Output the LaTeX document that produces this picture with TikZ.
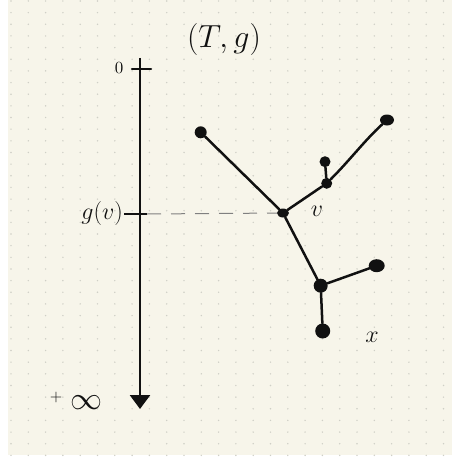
\RequirePackage{fix-cm}
\documentclass[tikz,border=0pt]{standalone}
\usepackage{graphicx}
\usetikzlibrary{arrows.meta,shapes.geometric}
\definecolor{paper}{HTML}{F7F5EA}
\definecolor{griddot}{HTML}{CFCFC6}
\definecolor{ink}{HTML}{111111}
\begin{document}
\begin{tikzpicture}[x=1pt,y=-1pt,
  inkline/.style={draw=ink,line width=2.5pt,line cap=round},
  leaf/.style={circle,fill=ink,inner sep=0pt,minimum size=12pt},
  vert/.style={ellipse,fill=ink,inner sep=0pt,minimum width=12pt,minimum height=9pt},
  lbl/.style={text=ink,inner sep=0pt}]
\useasboundingbox (0,0) rectangle (452,460);
\fill[white] (0,0) rectangle (452,460);
\fill[paper] (8,0) rectangle (452,455);
\foreach \i in {0,...,25} {
  \foreach \j in {0,...,39} {
    \fill[griddot] ({11+17.3*\i},{1+11.65*\j}) circle (0.8pt);
  }
}
% axis
\coordinate (top) at (140,58);
\coordinate (bot) at (140,409);
\draw[draw=ink,line width=2.7pt,-{Triangle[width=20pt,length=14pt]}] (top) -- (bot);
\coordinate (t0a) at (132,69);
\coordinate (t0b) at (151,69);
\draw[inkline] (t0a) -- (t0b);
\node[lbl] (zero) at (119,68) {\scalebox{1.7}{0}};
\node[lbl] (plus) at (56,397) {\scalebox{1.6}{+}};
\node[lbl,font=\fontsize{32}{36}\selectfont] (inf) at (86,403) {$\infty$};
\node[lbl,font=\fontsize{32}{36}\selectfont] (title) at (224,40) {$(T,g)$};
% tree
\node[leaf] (a) at (200.7,132.3) {};
\node[vert] (v) at (283,213) {};
\node[leaf,minimum size=11pt] (b) at (326.7,183.3) {};
\node[leaf,minimum size=11pt] (b1) at (325,161.7) {};
\node[ellipse,fill=ink,inner sep=0pt,minimum width=14pt,minimum height=11pt] (b2) at (387,120) {};
\node[leaf,minimum size=14pt] (c) at (320.7,285.7) {};
\node[ellipse,fill=ink,inner sep=0pt,minimum width=16pt,minimum height=13pt] (c1) at (376.7,265.7) {};
\node[leaf,minimum size=15pt] (x) at (322.7,331) {};
\draw[inkline] (a) -- (v);
\draw[inkline] (v) -- (b);
\draw[inkline] (b) -- (b1);
\draw[inkline] (b) .. controls (350,160) and (365,140) .. (b2);
\draw[inkline] (v) -- (c);
\draw[inkline] (c) -- (c1);
\draw[inkline] (c) -- (x);
% g(v)
\node[lbl,font=\fontsize{24}{28}\selectfont,anchor=east] (gv) at (123,213) {$g(v)$};
\coordinate (tva) at (124,214);
\coordinate (tvb) at (147,214);
\draw[draw=ink,line width=1.4pt] (tva) -- (tvb);
\draw[draw=gray,line width=1pt,dash pattern=on 14pt off 10pt] (tvb) -- (v);
\node[lbl,font=\fontsize{24}{28}\selectfont] (vl) at (317,211) {$v$};
\node[lbl,font=\fontsize{24}{28}\selectfont] (xl) at (372,337) {$x$};
\end{tikzpicture}
\end{document}
